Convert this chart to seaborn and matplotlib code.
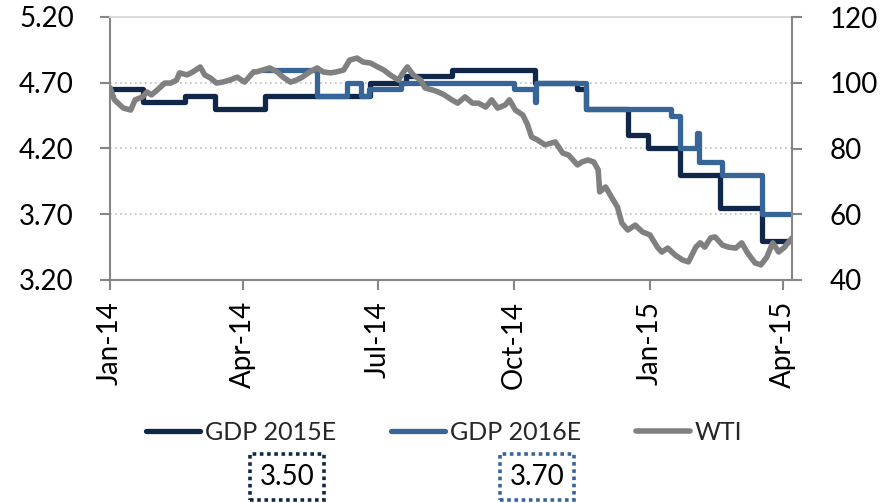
import numpy as np
import pandas as pd
import matplotlib
matplotlib.use("Agg")
import matplotlib.pyplot as plt
import matplotlib.dates as mdates
import seaborn as sns

sns.set_theme(style="white")
plt.rcParams["font.family"] = ["Lato", "DejaVu Sans"]

NAVY = "#10274A"
BLUE = "#386597"
GRAY = "#808080"
AXIS = "#868686"

BASE = pd.Timestamp("2014-01-01")

# GDP forecasts (left axis), step changes: day offset from 2014-01-01
gdp15_days = [0, 22, 51, 71, 105, 176, 200, 231, 287, 316, 322, 350, 364, 385, 412, 441, 461]
gdp15_vals = [4.65, 4.55, 4.60, 4.50, 4.60, 4.70, 4.75, 4.80, 4.70, 4.65, 4.50, 4.30, 4.20, 4.00, 3.75, 3.50, 3.50]

gdp16_days = [103, 140, 160, 170, 175, 197, 273, 287, 288, 322, 379, 385, 397, 398, 414, 441, 461]
gdp16_vals = [4.80, 4.60, 4.70, 4.60, 4.65, 4.70, 4.65, 4.55, 4.70, 4.50, 4.45, 4.20, 4.32, 4.10, 4.00, 3.70, 3.70]

# WTI (right axis)
wti_days = [0, 3, 9, 14, 17, 22, 25, 28, 32, 37, 41, 45, 47, 52, 56, 61, 64, 68, 72, 76,
            81, 86, 91, 97, 99, 108, 113, 117, 122, 126, 130, 135, 140, 144, 149, 153, 158,
            162, 167, 171, 176, 181, 185, 189, 195, 198, 201, 205, 210, 213, 218, 222, 226,
            231, 235, 240, 245, 249, 254, 258, 262, 267, 270, 274, 279, 282, 285, 289, 294,
            301, 306, 310, 316, 319, 323, 327, 330, 331, 335, 339, 343, 346, 350, 355, 360,
            365, 370, 373, 377, 382, 387, 391, 396, 399, 402, 406, 409, 414, 418, 423, 427,
            431, 436, 440, 444, 448, 452, 456, 461]
wti_vals = [98.5, 94.8, 92.3, 91.7, 94.8, 95.7, 97.2, 96.3, 97.8, 99.9, 99.9, 100.8, 103.0,
            102.4, 103.3, 104.8, 102.4, 101.4, 99.9, 100.2, 100.8, 101.7, 100.2, 103.3, 103.3,
            104.5, 103.3, 101.7, 100.2, 100.8, 101.7, 103.3, 104.5, 103.3, 103.0, 103.3, 103.9,
            106.9, 107.5, 106.3, 106.0, 104.8, 103.9, 102.5, 100.8, 103.0, 104.8, 102.4, 100.8,
            98.4, 97.8, 97.2, 96.3, 94.8, 93.8, 95.7, 93.8, 93.8, 92.6, 94.8, 92.3, 93.2, 94.8,
            91.7, 90.2, 87.5, 83.5, 82.6, 81.1, 82.0, 78.6, 78.0, 75.0, 75.9, 76.5, 75.9, 73.5,
            66.8, 68.3, 65.2, 62.2, 57.3, 55.2, 56.7, 54.6, 53.7, 50.0, 48.5, 49.7, 47.6, 46.1,
            45.5, 50.0, 51.3, 50.0, 52.8, 53.1, 50.6, 50.0, 49.7, 51.3, 48.2, 45.2, 44.6, 47.0,
            51.3, 48.5, 50.0, 52.8]

left_ticks = [3.20, 3.70, 4.20, 4.70, 5.20]
right_ticks = [40, 60, 80, 100, 120]
x_tick_dates = ["2014-01-01", "2014-04-01", "2014-07-01", "2014-10-01", "2015-01-01", "2015-04-01"]
box_labels = ["3.50", "3.70"]


def to_dates(days):
    return BASE + pd.to_timedelta(days, unit="D")


df15 = pd.DataFrame({"date": to_dates(gdp15_days), "v": gdp15_vals})
df16 = pd.DataFrame({"date": to_dates(gdp16_days), "v": gdp16_vals})
dfw = pd.DataFrame({"date": to_dates(wti_days), "v": wti_vals})

fig = plt.figure(figsize=(8.94, 5.03), dpi=100)
ax = fig.add_axes([110 / 894, 1 - 280 / 503, 682 / 894, 263 / 503])

LW = 3.8
sns.lineplot(data=df15, x="date", y="v", ax=ax, color=NAVY, linewidth=LW,
             drawstyle="steps-post", label="GDP 2015E", solid_joinstyle="round",
             solid_capstyle="round")
sns.lineplot(data=df16, x="date", y="v", ax=ax, color=BLUE, linewidth=LW,
             drawstyle="steps-post", label="GDP 2016E", solid_joinstyle="round",
             solid_capstyle="round")

ax2 = ax.twinx()
sns.lineplot(data=dfw, x="date", y="v", ax=ax2, color=GRAY, linewidth=LW + 0.2,
             label="WTI", solid_joinstyle="round", solid_capstyle="round")

h1, l1 = ax.get_legend_handles_labels()
h2, l2 = ax2.get_legend_handles_labels()
for a in (ax, ax2):
    if a.get_legend() is not None:
        a.get_legend().remove()

ax.set_xlim(BASE, BASE + pd.Timedelta(days=461))
ax.set_ylim(3.2, 5.2)
ax2.set_ylim(40, 120)
ax.set_yticks(left_ticks)
ax.set_yticklabels([f"{t:.2f}" for t in left_ticks])
ax2.set_yticks(right_ticks)
ax2.set_yticklabels([str(t) for t in right_ticks])
ax.set_xticks(pd.to_datetime(x_tick_dates))
ax.xaxis.set_major_formatter(mdates.DateFormatter("%b-%y"))
for lab in ax.get_xticklabels():
    lab.set_rotation(90)

ax.set_xlabel("")
ax.set_ylabel("")
ax2.set_ylabel("")

ax.yaxis.grid(True, linestyle=(0, (1, 2)), color="#C0C0C0", linewidth=1.2)
ax.xaxis.grid(False)
ax2.grid(False)

for s in ("left", "bottom"):
    ax.spines[s].set_color(AXIS)
    ax.spines[s].set_linewidth(1.5)
ax.spines["right"].set_visible(False)
ax.spines["top"].set_color("#D9D9D9")
ax.spines["top"].set_linewidth(1.3)
for s in ("left", "bottom", "top"):
    ax2.spines[s].set_visible(False)
ax2.spines["right"].set_color(AXIS)
ax2.spines["right"].set_linewidth(1.5)

ax.tick_params(axis="y", direction="out", length=7, width=1.5, color=AXIS,
               pad=19, labelsize=20, labelcolor="black", left=True)
ax.tick_params(axis="x", direction="out", length=7, width=1.5, color=AXIS,
               pad=8, labelsize=20, labelcolor="black", bottom=True)
ax2.tick_params(axis="y", direction="out", length=7, width=1.5, color=AXIS,
                pad=20, labelsize=20, labelcolor="black", right=True)

fig.legend(h1 + h2, l1 + l2, loc="center", bbox_to_anchor=(0.497, 0.141),
           ncol=3, frameon=False, fontsize=18, handlelength=2.15,
           handletextpad=0.2, columnspacing=2.2)

box_x = [287 / 894, 537 / 894]
box_colors = [NAVY, BLUE]
for txt, bx, bc in zip(box_labels, box_x, box_colors):
    fig.text(bx, 1 - 477 / 503, txt, ha="center", va="center", fontsize=20,
             color="black",
             bbox=dict(boxstyle="square,pad=0.35", fc="white", ec=bc,
                       lw=2.6, ls=(0, (1, 1))))

fig.savefig("out.png", dpi=100)
